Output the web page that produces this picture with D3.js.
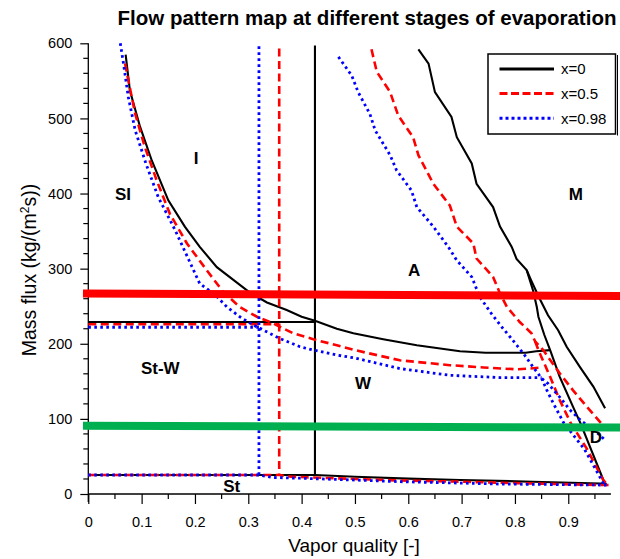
<!DOCTYPE html>
<html>
<head>
<meta charset="utf-8">
<script src="https://cdn.jsdelivr.net/npm/d3@7"></script>
<style>
  body { margin: 0; background: #fff; }
  svg text { font-family: "Liberation Sans", Arial, sans-serif; }
</style>
</head>
<body>
<script>
// ---- data: [vapor quality, mass flux] ----
// x = 0 (black)
var q0_wavy = [[0.070,585],[0.078,537],[0.097,489],[0.119,444],[0.150,391],[0.181,356],[0.209,329],[0.241,302],[0.272,285],[0.303,268],[0.335,255],[0.372,245],[0.400,236],[0.425,230.5],[0.466,220],[0.497,214],[0.553,206],[0.616,198],[0.697,190],[0.745,188],[0.820,188],[0.840,190],[0.866,191.5]];
var q0_slug = [[0,229],[0.425,229]];
var q0_ia = [[0.425,597],[0.425,25.3]];
var q0_strat = [[0,25.3],[0.425,25.3],[0.5,23],[0.6,20.5],[0.697,18.6],[0.834,16.4],[0.96,14],[0.972,13.5]];
var q0_mist = [[0.619,592],[0.638,573],[0.650,535],[0.681,502],[0.691,475],[0.719,440],[0.728,413],[0.759,382],[0.772,356],[0.794,329],[0.803,313],[0.822,298],[0.830,285],[0.845,262],[0.862,238],[0.881,218],[0.897,196],[0.922,169],[0.947,143],[0.969,114]];
var q0_dry = [[0.822,298],[0.834,271],[0.841,249],[0.844,236],[0.855,212],[0.866,191.5],[0.884,156],[0.909,116],[0.923,94],[0.969,13]];

// x = 0.5 (red)
var q05_wavy = [[0.069,573],[0.075,551],[0.088,506],[0.106,462],[0.128,418],[0.153,373],[0.185,333.5],[0.222,298],[0.253,269],[0.284,249],[0.316,236],[0.347,227],[0.384,214],[0.422,206],[0.466,198],[0.497,192],[0.584,178],[0.678,171.5],[0.741,168.5],[0.803,166],[0.828,167],[0.850,168.5]];
var q05_slug = [[0,226],[0.358,226]];
var q05_ia = [[0.358,593],[0.358,25.3]];
var q05_strat = [[0,25.3],[0.358,25.3],[0.38,23],[0.5,20],[0.584,18],[0.697,16.4],[0.8,14.5],[0.959,12],[0.978,12]];
var q05_mist = [[0.531,592],[0.541,562],[0.566,535],[0.581,504],[0.609,475],[0.619,451],[0.647,413],[0.678,384],[0.691,356],[0.722,333.5],[0.728,313.5],[0.759,289],[0.772,267],[0.785,249],[0.809,229],[0.831,214],[0.838,203],[0.853,191.6],[0.884,160.6],[0.909,138],[0.935,116],[0.962,94]];
var q05_dry = [[0.838,203],[0.844,191.6],[0.866,156],[0.884,125],[0.905,94],[0.935,60],[0.966,18],[0.975,12]];

// x = 0.98 (blue)
var q098_wavy = [[0.060,600],[0.066,573],[0.075,528.5],[0.088,484],[0.108,440],[0.131,395.5],[0.163,351],[0.185,317],[0.209,280],[0.238,265],[0.260,249],[0.284,236],[0.309,225],[0.322,220.5],[0.359,207],[0.397,196],[0.422,191.6],[0.466,185],[0.500,181],[0.584,167],[0.678,158],[0.772,155],[0.834,155],[0.850,155]];
var q098_slug = [[0,222],[0.320,222]];
var q098_ia = [[0.320,596],[0.320,25.3]];
var q098_strat = [[0,25.3],[0.32,25.3],[0.345,22],[0.397,21],[0.5,18.6],[0.584,16.4],[0.772,13.3],[0.959,12],[0.978,12]];
var q098_mist = [[0.469,582],[0.494,557],[0.506,535],[0.528,506],[0.538,484],[0.566,451],[0.578,431],[0.606,404],[0.616,382],[0.647,356],[0.675,329],[0.691,311],[0.719,289],[0.734,262.5],[0.756,240],[0.778,220],[0.791,209],[0.816,187],[0.834,169],[0.850,154],[0.862,147],[0.884,129],[0.903,112],[0.925,97],[0.947,86],[0.969,72]];
var q098_dry = [[0.850,154],[0.860,138],[0.872,120.6],[0.892,94],[0.930,60],[0.959,23],[0.969,10]];

// thick marker lines
var bandRed = [[-0.01,267],[1.0,263.5]];
var bandGreen = [[-0.01,91],[1.0,88.5]];

// region labels
var regionNames = ["I","SI","St-W","St","A","M","W","D"];
var regionX = [0.202,0.065,0.135,0.269,0.611,0.914,0.515,0.952];
var regionG = [448,400,168,11.3,299,399,148,76];

var legendNames = ["x=0","x=0.5","x=0.98"];
var xTicks = [0,0.1,0.2,0.3,0.4,0.5,0.6,0.7,0.8,0.9];
var yTicks = [0,100,200,300,400,500,600];

// ---- layout ----
var W = 620, H = 559;
var xScale = d3.scaleLinear().domain([0,1]).range([88.3,621.6]);
var yScale = d3.scaleLinear().domain([0,600]).range([494,43.3]);

var svg = d3.select("body").append("svg").attr("width",W).attr("height",H);
svg.append("rect").attr("width",W).attr("height",H).attr("fill","#fff");

var line = d3.line()
    .x(function(d){return xScale(d[0]);})
    .y(function(d){return yScale(d[1]);});

var series = [
  {color:"#000", width:2.1, dash:null, parts:[q0_wavy,q0_slug,q0_ia,q0_strat,q0_mist,q0_dry]},
  {color:"#ff0000", width:2.6, dash:"8,4.5", parts:[q05_wavy,q05_slug,q05_ia,q05_strat,q05_mist,q05_dry]},
  {color:"#0000ff", width:2.8, dash:"2.6,3.4", parts:[q098_wavy,q098_slug,q098_ia,q098_strat,q098_mist,q098_dry]}
];

// axes
var xAxis = d3.axisBottom(xScale).tickValues(xTicks).tickSize(10).tickFormat(function(d){return d===0?"0":d3.format(".1f")(d);});
var gx = svg.append("g").attr("transform","translate(0,494)").call(xAxis);
gx.select(".domain").remove();
gx.append("line").attr("x1",xScale(0)).attr("x2",xScale(0.98)).attr("y1",0).attr("y2",0).attr("stroke","#000").attr("stroke-width",1.3);
gx.selectAll(".tick line").attr("stroke","#000").attr("stroke-width",1.2);
gx.selectAll(".tick text").attr("font-size",14.5).attr("fill","#000").attr("dy","1.4em");
gx.selectAll(".xminor").data(d3.range(0.05,1,0.1)).enter().append("line")
  .attr("x1",function(d){return xScale(d);}).attr("x2",function(d){return xScale(d);})
  .attr("y1",0).attr("y2",5).attr("stroke","#000").attr("stroke-width",1.2);

var yAxis = d3.axisLeft(yScale).tickValues(yTicks).tickSize(8).tickPadding(8);
var gy = svg.append("g").attr("transform","translate(88.3,0)").call(yAxis);
gy.select(".domain").remove();
gy.append("line").attr("x1",0).attr("x2",0).attr("y1",yScale(600)).attr("y2",yScale(0)+8).attr("stroke","#000").attr("stroke-width",1.3);
gy.selectAll(".tick line").attr("stroke","#000").attr("stroke-width",1.2);
gy.selectAll(".tick text").attr("font-size",14.5).attr("fill","#000");
gy.selectAll(".yminor").data(d3.range(20,600,20).filter(function(v){return v%100!==0;})).enter().append("line")
  .attr("x1",-5).attr("x2",0)
  .attr("y1",function(d){return yScale(d);}).attr("y2",function(d){return yScale(d);})
  .attr("stroke","#000").attr("stroke-width",1.2);

// curves
series.forEach(function(s){
  var g = svg.append("g");
  s.parts.forEach(function(p){
    g.append("path").attr("d",line(p)).attr("fill","none")
      .attr("stroke",s.color).attr("stroke-width",s.width)
      .attr("stroke-dasharray",s.dash);
  });
});

// thick marker lines
svg.append("path").attr("d",line(bandRed)).attr("stroke","#ff0000").attr("stroke-width",8);
svg.append("path").attr("d",line(bandGreen)).attr("stroke","#00b050").attr("stroke-width",8);

// region labels
regionNames.forEach(function(t,i){
  svg.append("text").attr("x",xScale(regionX[i])).attr("y",yScale(regionG[i]))
    .attr("dy","0.36em").attr("text-anchor","middle")
    .attr("font-size",17).attr("font-weight","bold").text(t);
});

// legend
var lg = svg.append("g");
lg.append("rect").attr("x",488).attr("y",54).attr("width",127.5).attr("height",80)
  .attr("fill","#fff").attr("stroke","#000").attr("stroke-width",1.5);
lg.append("line").attr("x1",617.5).attr("x2",617.5).attr("y1",55).attr("y2",135.5).attr("stroke","#000").attr("stroke-width",1);
series.forEach(function(s,i){
  var yy = 69 + i*24.6;
  lg.append("line").attr("x1",499.5).attr("x2",554).attr("y1",yy).attr("y2",yy)
    .attr("stroke",s.color).attr("stroke-width",3).attr("stroke-dasharray",s.dash===null?null:(i===1?"8,3.5":"3,3"));
  lg.append("text").attr("x",561).attr("y",yy).attr("dy","0.36em").attr("font-size",15).text(legendNames[i]);
});

// titles
svg.append("text").attr("x",367).attr("y",25).attr("text-anchor","middle")
  .attr("font-size",20.5).attr("font-weight","bold").text("Flow pattern map at different stages of evaporation");
svg.append("text").attr("x",354).attr("y",552).attr("text-anchor","middle")
  .attr("font-size",19).text("Vapor quality [-]");
var yl = svg.append("text").attr("transform","translate(36,270) rotate(-90)").attr("text-anchor","middle").attr("font-size",19.5);
yl.append("tspan").text("Mass flux (kg/(m");
yl.append("tspan").attr("font-size",12).attr("dy",-7).text("2");
yl.append("tspan").attr("dy",7).text("s))");
</script>
</body>
</html>
